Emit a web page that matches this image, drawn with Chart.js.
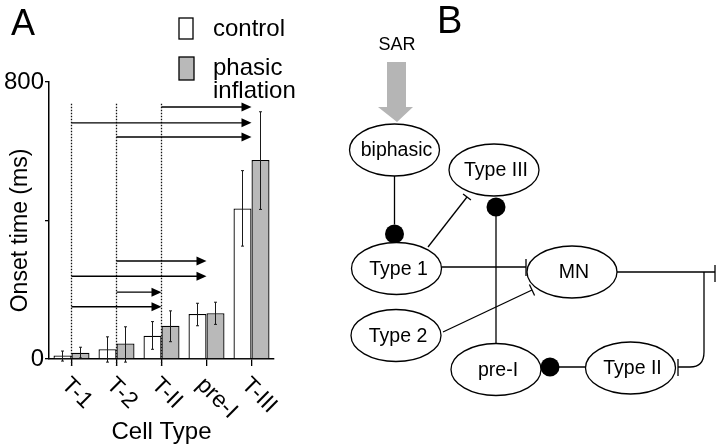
<!DOCTYPE html>
<html>
<head>
<meta charset="utf-8">
<script src="https://cdn.jsdelivr.net/npm/chart.js@4.4.1/dist/chart.umd.min.js"></script>
<style>
  html, body { margin: 0; padding: 0; background: #fff; }
  #wrap { position: relative; width: 720px; height: 448px; overflow: hidden; }
  #chartA { position: absolute; left: 0; top: 0; }
  #chartB { position: absolute; left: 300px; top: 0; }
</style>
</head>
<body>
<div id="wrap">
  <canvas id="chartA" width="300" height="448"></canvas>
  <canvas id="chartB" width="420" height="448"></canvas>
</div>
<script>
// ---- panel A data ----
const categories = ['T-1', 'T-2', 'T-II', 'pre-I', 'T-III'];
const controlValues = [10, 28, 67, 130, 435];
const controlLow = [-6, -9, 28, 96, 326];
const controlHigh = [23, 64, 108, 161, 544];
const inflationValues = [18, 45, 96, 132, 575];
const inflationLow = [3, -9, 50, 100, 432];
const inflationHigh = [34, 93, 139, 164, 714];
const yTicks = [0, 400, 800];
const yTickLabels = ['0', '', '800'];
// onset-order arrows (from cell type -> to cell type, at a height in ms)
const arrowFrom = ['T-II', 'T-1', 'T-2', 'T-2', 'T-1', 'T-2', 'T-1'];
const arrowTo = ['T-III', 'T-III', 'T-III', 'pre-I', 'pre-I', 'T-II', 'T-II'];
const arrowLevel = [728, 682, 641, 283, 239, 193, 151];
const guideCats = ['T-1', 'T-2', 'T-II'];
const guideTop = 737;

// ---- panel B data ----
const nodeNames = ['biphasic', 'Type III', 'Type 1', 'MN', 'Type 2', 'pre-I', 'Type II'];
const nodeX = [94.5, 194, 96.5, 272, 96, 196, 330.5];
const nodeY = [150, 170, 268.5, 272, 335.5, 369.5, 368];

const FONT = "'Liberation Sans', Arial, Helvetica, sans-serif";

const panelAExtras = {
  id: 'panelAExtras',
  afterDraw(chart) {
    const ctx = chart.ctx;
    const xs = chart.scales.x;
    const ys = chart.scales.y;
    const area = chart.chartArea;
    const catPx = name => xs.getPixelForValue(categories.indexOf(name));

    ctx.save();

    // error bars
    const drawErr = (dsIndex, lows, highs) => {
      const meta = chart.getDatasetMeta(dsIndex);
      meta.data.forEach((bar, i) => {
        const x = bar.x;
        const y1 = ys.getPixelForValue(lows[i]);
        const y2 = ys.getPixelForValue(highs[i]);
        ctx.strokeStyle = '#1a1a1a';
        ctx.lineWidth = 1;
        ctx.beginPath();
        ctx.moveTo(x, y1); ctx.lineTo(x, y2);
        ctx.moveTo(x - 1.5, y1); ctx.lineTo(x + 1.5, y1);
        ctx.moveTo(x - 1.5, y2); ctx.lineTo(x + 1.5, y2);
        ctx.stroke();
      });
    };
    drawErr(0, controlLow, controlHigh);
    drawErr(1, inflationLow, inflationHigh);

    // dotted guides
    ctx.setLineDash([1.5, 1.5]);
    ctx.lineWidth = 1.3;
    ctx.strokeStyle = '#111';
    guideCats.forEach(c => {
      const x = catPx(c);
      ctx.beginPath();
      ctx.moveTo(x, ys.getPixelForValue(guideTop));
      ctx.lineTo(x, area.bottom + 7);
      ctx.stroke();
    });
    ctx.setLineDash([]);

    // arrows
    ctx.fillStyle = '#000';
    ctx.strokeStyle = '#000';
    ctx.lineWidth = 1.4;
    arrowLevel.forEach((v, i) => {
      const x1 = catPx(arrowFrom[i]);
      const x2 = catPx(arrowTo[i]);
      const y = ys.getPixelForValue(v);
      ctx.beginPath();
      ctx.moveTo(x1, y); ctx.lineTo(x2 - 8, y);
      ctx.stroke();
      ctx.beginPath();
      ctx.moveTo(x2, y);
      ctx.lineTo(x2 - 10, y - 4.5);
      ctx.lineTo(x2 - 10, y + 4.5);
      ctx.closePath();
      ctx.fill();
    });

    // rotated category labels
    ctx.fillStyle = '#000';
    ctx.font = '23px ' + FONT;
    ctx.textAlign = 'left';
    ctx.textBaseline = 'alphabetic';
    categories.forEach((c, i) => {
      const x = xs.getPixelForValue(i) - 11;
      const y = area.bottom + 27;
      ctx.save();
      ctx.translate(x, y);
      ctx.rotate(Math.PI / 4);
      ctx.fillText(c, 0, 0);
      ctx.restore();
    });

    // y axis title
    ctx.save();
    ctx.font = '23px ' + FONT;
    ctx.textAlign = 'center';
    ctx.textBaseline = 'middle';
    ctx.translate(21, (area.top + area.bottom) / 2 + 10);
    ctx.rotate(-Math.PI / 2);
    ctx.fillText('Onset time (ms)', 0, 0);
    ctx.restore();

    // legend
    const ds = chart.data.datasets;
    ctx.lineWidth = 1.3;
    ctx.strokeStyle = '#000';
    ctx.fillStyle = ds[0].backgroundColor;
    ctx.fillRect(179, 18, 14, 21);
    ctx.strokeRect(179, 18, 14, 21);
    ctx.fillStyle = ds[1].backgroundColor;
    ctx.fillRect(179, 57, 15, 23);
    ctx.strokeRect(179, 57, 15, 23);
    ctx.fillStyle = '#000';
    ctx.font = '24px ' + FONT;
    ctx.textBaseline = 'middle';
    ctx.fillText(ds[0].label, 213, 29);
    ds[1].label.split('\n').forEach((t, k) => ctx.fillText(t, 213, 68 + k * 23));

    // panel letter
    ctx.font = '36px ' + FONT;
    ctx.textBaseline = 'alphabetic';
    ctx.fillText('A', 11, 35);

    ctx.restore();
  }
};

new Chart(document.getElementById('chartA'), {
  type: 'bar',
  data: {
    labels: categories,
    datasets: [
      {
        label: 'control',
        data: controlValues,
        backgroundColor: '#ffffff',
        borderColor: '#000000',
        borderWidth: 1.3
      },
      {
        label: 'phasic\ninflation',
        data: inflationValues,
        backgroundColor: '#b9b9b9',
        borderColor: '#000000',
        borderWidth: 1.3
      }
    ]
  },
  options: {
    responsive: false,
    animation: false,
    devicePixelRatio: 1,
    layout: { padding: { top: 82, right: 26, bottom: 0, left: 0 } },
    datasets: { bar: { categoryPercentage: 0.8, barPercentage: 1.0 } },
    plugins: { legend: { display: false }, tooltip: { enabled: false } },
    scales: {
      x: {
        grid: { display: true, drawOnChartArea: false, drawTicks: true, tickLength: 7, offset: false, color: '#000', lineWidth: 1.3 },
        border: { display: true, color: '#000', width: 1.5 },
        ticks: { display: false },
        title: { display: true, text: 'Cell Type', color: '#000', font: { family: FONT, size: 24 }, padding: { top: 0, bottom: 1 } },
        afterFit(scale) { scale.height = 89; }
      },
      y: {
        min: 0,
        max: 800,
        afterBuildTicks(scale) { scale.ticks = yTicks.map(v => ({ value: v })); },
        grid: { display: true, drawOnChartArea: false, drawTicks: true, tickLength: 4, color: '#000', lineWidth: 1.3 },
        border: { display: true, color: '#000', width: 1.5 },
        ticks: {
          color: '#000',
          padding: 1,
          font: { family: FONT, size: 24 },
          callback: (v) => yTickLabels[yTicks.indexOf(v)]
        },
        afterFit(scale) { scale.width = 49; }
      }
    }
  },
  plugins: [panelAExtras]
});

// ---- panel B: circuit diagram ----
const panelBDiagram = {
  id: 'panelBDiagram',
  afterDraw(chart) {
    const ctx = chart.ctx;
    const xs = chart.scales.x;
    const ys = chart.scales.y;
    const X = v => xs.getPixelForValue(v);
    const Y = v => ys.getPixelForValue(v);
    const pts = chart.getDatasetMeta(0).data;
    const rx = 45, ry = 26;

    ctx.save();
    ctx.strokeStyle = '#000';
    ctx.fillStyle = '#000';
    ctx.lineWidth = 1.3;

    const line = (x1, y1, x2, y2) => {
      ctx.beginPath(); ctx.moveTo(X(x1), Y(y1)); ctx.lineTo(X(x2), Y(y2)); ctx.stroke();
    };
    const dot = (x, y) => {
      ctx.beginPath(); ctx.arc(X(x), Y(y), 9.5, 0, Math.PI * 2); ctx.fill();
    };
    // inhibitory bar perpendicular to the segment end
    const tbar = (x1, y1, x2, y2, half) => {
      const dx = x2 - x1, dy = y2 - y1, len = Math.hypot(dx, dy);
      const nx = -dy / len, ny = dx / len;
      line(x2 - nx * half, y2 - ny * half, x2 + nx * half, y2 + ny * half);
    };

    // SAR input arrow
    ctx.fillStyle = '#b5b5b5';
    ctx.beginPath();
    ctx.moveTo(X(87), Y(62)); ctx.lineTo(X(106), Y(62)); ctx.lineTo(X(106), Y(107));
    ctx.lineTo(X(113), Y(107)); ctx.lineTo(X(97), Y(122)); ctx.lineTo(X(78), Y(107));
    ctx.lineTo(X(87), Y(107)); ctx.closePath();
    ctx.fill();
    ctx.fillStyle = '#000';

    // biphasic -> Type 1 (excitatory)
    const bx = nodeX[0];
    line(bx, nodeY[0] + ry, bx, nodeY[2] - ry - 18);
    dot(bx, nodeY[2] - ry - 8.5);

    // Type 1 -| Type III
    line(128, 247, 167, 197);
    tbar(128, 247, 167, 197, 5);

    // Type III -> pre-I (excitatory dot below Type III)
    const tx = nodeX[1] + 2;
    dot(tx, nodeY[1] + ry + 11);
    line(tx, nodeY[1] + ry + 11, tx, nodeY[5] - ry);

    // Type 1 -| MN
    line(nodeX[2] + rx, 267, nodeX[3] - rx - 1, 267);
    line(nodeX[3] - rx - 1, 259, nodeX[3] - rx - 1, 276);

    // Type 2 -| MN
    line(143, 332, 232, 290);
    tbar(143, 332, 232, 290, 6);

    // MN output with branch to Type II
    line(nodeX[3] + rx, 272, 415, 272);
    line(415, 265, 415, 282);
    ctx.beginPath();
    ctx.moveTo(X(404), Y(272));
    ctx.lineTo(X(404), Y(352));
    ctx.quadraticCurveTo(X(404), Y(367), X(390), Y(367));
    ctx.lineTo(X(378), Y(367));
    ctx.stroke();
    line(378, 359, 378, 376);

    // Type II -> pre-I (excitatory)
    line(250, 367, nodeX[6] - rx, 367);
    dot(250, 367);

    // ellipses and labels
    ctx.font = '19.5px ' + FONT;
    ctx.textAlign = 'center';
    ctx.textBaseline = 'middle';
    pts.forEach((p, i) => {
      ctx.beginPath();
      ctx.ellipse(p.x, p.y, rx, ry, 0, 0, Math.PI * 2);
      ctx.fillStyle = '#fff';
      ctx.fill();
      ctx.lineWidth = 1.3;
      ctx.stroke();
      ctx.fillStyle = '#000';
      ctx.fillText(nodeNames[i], p.x + 2, p.y + 1);
    });

    // SAR label and panel letter
    ctx.font = '18px ' + FONT;
    ctx.fillText('SAR', X(97), Y(45));
    ctx.font = '38px ' + FONT;
    ctx.textAlign = 'left';
    ctx.textBaseline = 'alphabetic';
    ctx.fillText('B', X(137), Y(33));
    ctx.restore();
  }
};

new Chart(document.getElementById('chartB'), {
  type: 'scatter',
  data: {
    datasets: [{
      label: 'cells',
      data: nodeX.map((x, i) => ({ x: x, y: nodeY[i] })),
      pointRadius: 0,
      showLine: false
    }]
  },
  options: {
    responsive: false,
    animation: false,
    devicePixelRatio: 1,
    layout: { padding: 0 },
    plugins: { legend: { display: false }, tooltip: { enabled: false } },
    scales: {
      x: { type: 'linear', min: 0, max: 420, display: false },
      y: { type: 'linear', min: 0, max: 448, reverse: true, display: false }
    }
  },
  plugins: [panelBDiagram]
});
</script>
</body>
</html>
